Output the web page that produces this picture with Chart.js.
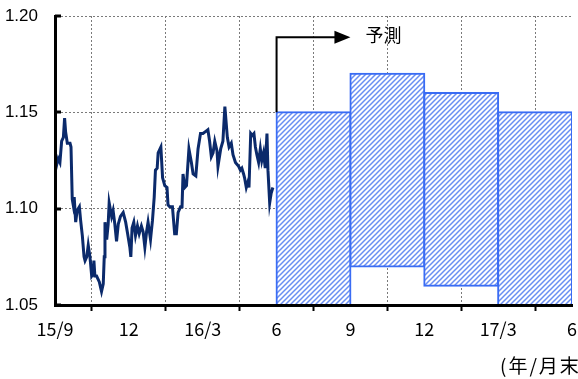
<!DOCTYPE html>
<html>
<head>
<meta charset="utf-8">
<script src="https://cdn.jsdelivr.net/npm/chart.js@4/dist/chart.umd.min.js"></script>
<style>
  html, body { margin: 0; padding: 0; background: #fff; }
  #wrap { width: 578px; height: 379px; }
</style>
</head>
<body>
<div id="wrap"><canvas id="c" width="578" height="379"></canvas></div>
<script>
// Quarter-end tick labels (x axis is months counted from end of Sep 2015)
const xTickLabels = ['15/9', '12', '16/3', '6', '9', '12', '17/3', '6'];

// Daily spot rate, months since end-Sep 2015
const spotMonths = [
  0.00, 0.09, 0.13, 0.20, 0.27, 0.34, 0.39, 0.43, 0.50, 0.61,
  0.65, 0.70, 0.74, 0.78, 0.84, 0.90, 0.99, 1.04, 1.11, 1.18,
  1.22, 1.29, 1.35, 1.42, 1.49, 1.54, 1.58, 1.62, 1.69, 1.80,
  1.89, 1.96, 2.00, 2.03, 2.10, 2.16, 2.20, 2.30, 2.36, 2.43,
  2.50, 2.57, 2.66, 2.77, 2.87, 2.95, 3.04, 3.08, 3.13, 3.20,
  3.27, 3.35, 3.42, 3.51, 3.58, 3.65, 3.72, 3.78, 3.88, 3.96,
  4.03, 4.08, 4.15, 4.19, 4.30, 4.37, 4.46, 4.55, 4.59, 4.66,
  4.77, 4.86, 4.93, 5.00, 5.10, 5.16, 5.20, 5.27, 5.34, 5.44,
  5.54, 5.61, 5.72, 5.81, 5.91, 6.01, 6.11, 6.21, 6.28, 6.35,
  6.42, 6.49, 6.58, 6.62, 6.73, 6.82, 6.90, 7.00, 7.07, 7.16,
  7.23, 7.33, 7.39, 7.46, 7.53, 7.59, 7.66, 7.70, 7.77, 7.84,
  7.88, 7.95, 8.01, 8.08, 8.14, 8.20, 8.27, 8.34, 8.40, 8.47,
  8.54, 8.61, 8.65, 8.72, 8.78, 8.85
];
const spotRates = [
  1.119, 1.124, 1.126, 1.124, 1.135, 1.137, 1.147, 1.140, 1.134, 1.134,
  1.132, 1.105, 1.102, 1.106, 1.093, 1.099, 1.101, 1.094, 1.086, 1.075,
  1.073, 1.075, 1.081, 1.075, 1.065, 1.066, 1.073, 1.065, 1.065, 1.062,
  1.057, 1.061, 1.075, 1.093, 1.084, 1.092, 1.103, 1.096, 1.099, 1.092,
  1.083, 1.092, 1.096, 1.098, 1.093, 1.087, 1.080, 1.075, 1.090, 1.093,
  1.086, 1.091, 1.087, 1.091, 1.088, 1.080, 1.088, 1.093, 1.084, 1.094,
  1.106, 1.120, 1.121, 1.129, 1.132, 1.116, 1.112, 1.111, 1.102, 1.101,
  1.101, 1.087, 1.087, 1.098, 1.101, 1.101, 1.118, 1.111, 1.112, 1.131,
  1.124, 1.118, 1.117, 1.131, 1.139, 1.139, 1.140, 1.141, 1.135, 1.127,
  1.129, 1.135, 1.130, 1.122, 1.131, 1.135, 1.153, 1.137, 1.132, 1.134,
  1.128, 1.124, 1.123, 1.122, 1.120, 1.121, 1.118, 1.116, 1.111, 1.114,
  1.111, 1.139, 1.138, 1.139, 1.132, 1.128, 1.124, 1.131, 1.125, 1.129,
  1.121, 1.139, 1.120, 1.103, 1.108, 1.111
];

// Forecast ranges per quarter (centre month of each quarter, low, high)
const forecastMid  = [10.5, 13.5, 16.5, 19.5];
const forecastLow  = [1.05, 1.07, 1.06, 1.05];
const forecastHigh = [1.15, 1.17, 1.16, 1.15];

// Forecast start marker: from month 9 at the first band top, arrow to month 12
const arrowStart = 9;
const arrowEnd = 12;
const arrowLevel = 1.189;
const forecastText = '予測';
const unitText = '(年/月末)';

const JP = '"Noto Sans CJK JP", "Noto Sans", sans-serif';
const AR = '"Liberation Sans", Arial, sans-serif';

function hatchPattern() {
  const s = 5;
  const c = document.createElement('canvas');
  c.width = s; c.height = s;
  const g = c.getContext('2d');
  g.fillStyle = '#ffffff';
  g.fillRect(0, 0, s, s);
  g.strokeStyle = '#6a8ff2';
  g.lineWidth = 1.5;
  g.beginPath();
  g.moveTo(-1, s + 1); g.lineTo(s + 1, -1);
  g.moveTo(-1, 1); g.lineTo(1, -1);
  g.moveTo(s - 1, s + 1); g.lineTo(s + 1, s - 1);
  g.stroke();
  return g.createPattern(c, 'repeat');
}

// Inward y ticks, forecast arrow and captions
const overlay = {
  id: 'overlay',
  afterDraw(chart) {
    const { ctx, scales: { x, y }, chartArea } = chart;
    ctx.save();
    ctx.strokeStyle = '#000';
    ctx.lineWidth = 3;
    y.ticks.forEach(t => {
      const py = Math.round(y.getPixelForValue(t.value));
      ctx.beginPath();
      ctx.moveTo(chartArea.left, py);
      ctx.lineTo(chartArea.left + 6, py);
      ctx.stroke();
    });

    // arrow
    const ax = x.getPixelForValue(arrowStart);
    const ay = y.getPixelForValue(arrowLevel);
    const by = y.getPixelForValue(forecastHigh[0]);
    const ex = x.getPixelForValue(arrowEnd);
    ctx.lineWidth = 2;
    ctx.beginPath();
    ctx.moveTo(ax, by);
    ctx.lineTo(ax, ay);
    ctx.lineTo(ex - 14, ay);
    ctx.stroke();
    ctx.fillStyle = '#000';
    ctx.beginPath();
    ctx.moveTo(ex - 16, ay - 6.5);
    ctx.lineTo(ex, ay);
    ctx.lineTo(ex - 16, ay + 6.5);
    ctx.closePath();
    ctx.fill();

    ctx.font = '18px ' + JP;
    ctx.textAlign = 'left';
    ctx.textBaseline = 'middle';
    ctx.fillText(forecastText, ex + 15, ay - 2);

    // unit caption, runs off the right edge of the canvas
    ctx.font = '19px ' + JP;
    ctx.letterSpacing = '2px';
    ctx.fillText(unitText, chartArea.right - 72, chartArea.bottom + 61);
    ctx.restore();
  }
};

new Chart(document.getElementById('c'), {
  type: 'bar',
  data: {
    datasets: [
      {
        type: 'line',
        data: spotMonths.map((m, i) => ({ x: m, y: spotRates[i] })),
        borderColor: '#0b2a6b',
        borderWidth: 3,
        pointRadius: 0,
        tension: 0,
        fill: false,
        order: 0
      },
      {
        type: 'bar',
        data: forecastMid.map((m, i) => ({ x: m, y: [forecastLow[i], forecastHigh[i]] })),
        backgroundColor: hatchPattern(),
        borderColor: '#3a6cf4',
        borderWidth: 2,
        borderSkipped: false,
        inflateAmount: 1,
        barPercentage: 1,
        categoryPercentage: 1,
        order: 1
      }
    ]
  },
  options: {
    responsive: false,
    animation: false,
    devicePixelRatio: 1,
    layout: { padding: { top: 16, right: 0, bottom: 0, left: 0 } },
    plugins: { legend: { display: false }, tooltip: { enabled: false } },
    scales: {
      x: {
        type: 'linear',
        min: 0,
        max: 21,
        offset: false,
        afterFit: s => { s.height = 74; s.paddingLeft = 0; s.paddingRight = 6; },
        ticks: {
          stepSize: 3,
          autoSkip: false,
          maxRotation: 0,
          padding: 7,
          color: '#000',
          font: { family: JP, size: 18 },
          callback: (v, i) => xTickLabels[i]
        },
        grid: {
          color: '#7a7a7a',
          lineWidth: 1,
          drawTicks: true,
          tickLength: 6,
          tickColor: '#000',
          tickWidth: 2
        },
        border: { display: true, color: '#000', width: 3, dash: [2, 2], z: 1 }
      },
      y: {
        type: 'linear',
        min: 1.05,
        max: 1.20,
        afterFit: s => { s.width = 55; s.paddingTop = 0; s.paddingBottom = 0; },
        ticks: {
          stepSize: 0.05,
          padding: 17,
          color: '#000',
          font: { family: AR, size: 17 },
          callback: v => v.toFixed(2)
        },
        grid: { color: '#7a7a7a', lineWidth: 1, drawTicks: false },
        border: { display: true, color: '#000', width: 3, dash: [2, 2], z: 1 }
      }
    }
  },
  plugins: [overlay]
});
</script>
</body>
</html>
